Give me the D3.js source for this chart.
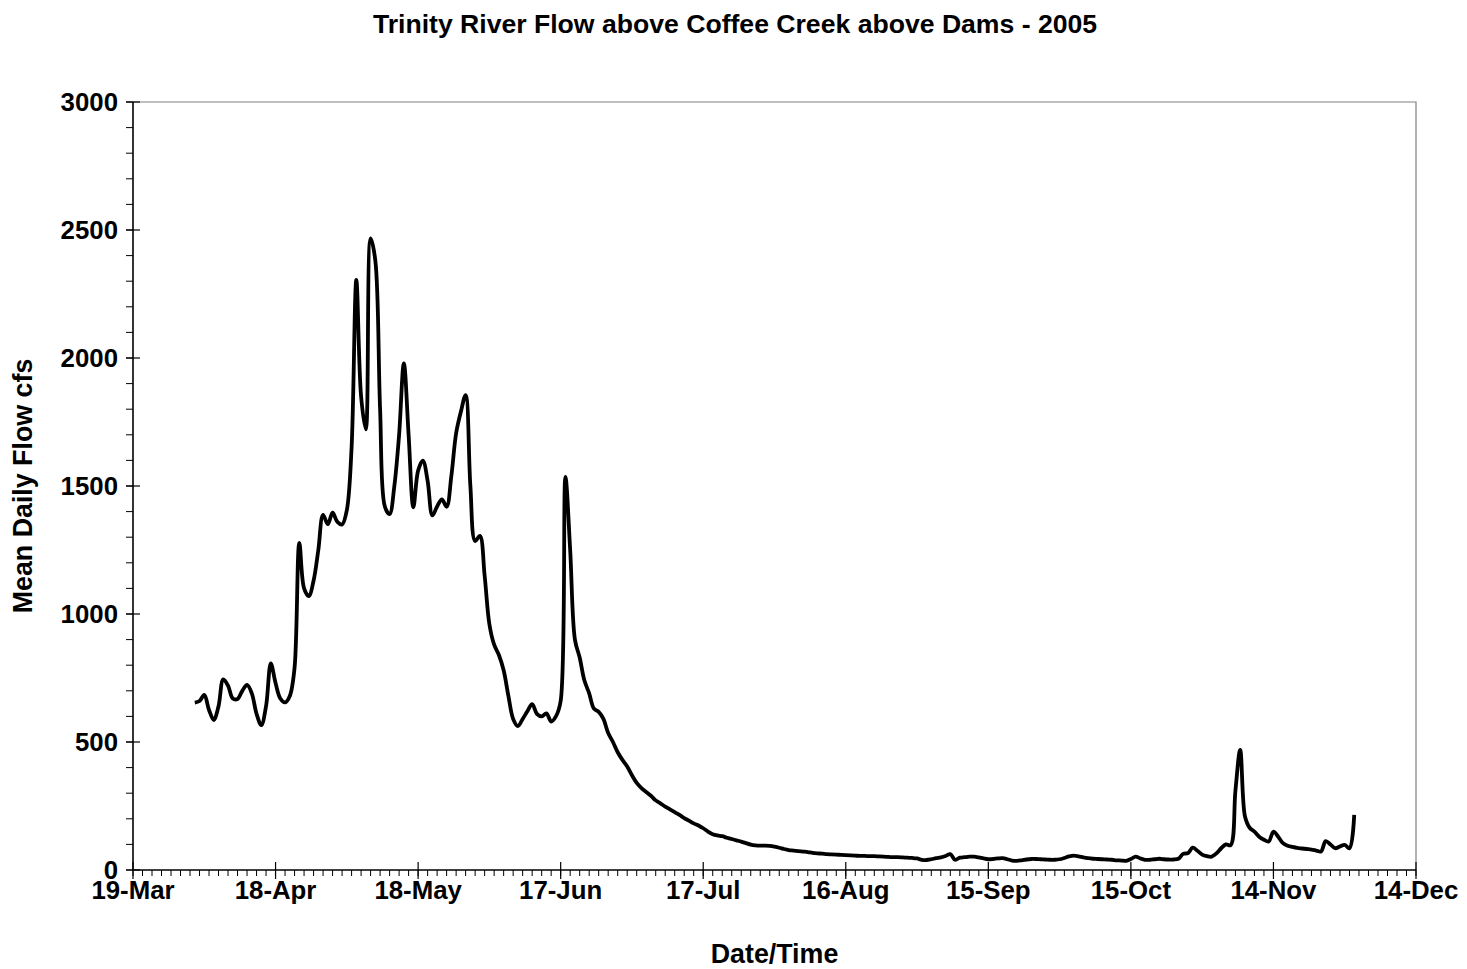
<!DOCTYPE html>
<html>
<head>
<meta charset="utf-8">
<script src="https://cdn.jsdelivr.net/npm/d3@7"></script>
<style>
  html, body { margin: 0; padding: 0; background: #fff; }
  svg { display: block; }
  text { font-family: "Liberation Sans", Arial, Helvetica, sans-serif; font-weight: bold; fill: #000; }
</style>
</head>
<body>
<svg id="chart" width="1467" height="969"></svg>
<script>
// Trinity River above Coffee Creek, mean daily flow (cfs), 1 Apr – 1 Dec 2005
const seriesStart = "2005-04-01";
const aprilFlow = [654, 660, 684, 625, 586, 640, 745, 720, 670, 668, 700, 723, 690, 610, 566, 640, 807, 730, 670, 655, 680, 790, 1278, 1100, 1070, 1130, 1250, 1387, 1351, 1396];
const mayFlow = [1360, 1350, 1406, 1650, 2305, 1850, 1721, 2467, 2380, 1800, 1420, 1390, 1500, 1700, 1979, 1700, 1417, 1560, 1599, 1520, 1385, 1420, 1448, 1419, 1540, 1706, 1790, 1855, 1500, 1285, 1305];
const juneFlow = [1150, 960, 880, 840, 780, 680, 590, 562, 590, 620, 648, 610, 600, 612, 580, 600, 660, 1536, 1250, 900, 830, 740, 690, 630, 618, 590, 535, 500, 460, 430];
const julyFlow = [404, 370, 340, 320, 305, 290, 272, 260, 248, 237, 226, 215, 203, 193, 182, 174, 163, 150, 140, 135, 132, 126, 121, 116, 111, 105, 99, 96, 95, 95, 94];
const augustFlow = [91, 87, 82, 78, 76, 74, 72, 70, 67, 65, 64, 62, 61, 60, 59, 58, 57, 56, 55, 55, 54, 54, 53, 52, 51, 50, 50, 49, 48, 47, 45];
const septemberFlow = [40, 39, 42, 46, 49, 55, 62, 40, 48, 50, 52, 52, 49, 45, 42, 43, 45, 46, 42, 37, 36, 38, 41, 43, 43, 42, 41, 40, 40, 42];
const octoberFlow = [47, 53, 56, 53, 49, 46, 44, 43, 42, 41, 40, 38, 37, 36, 43, 52, 45, 40, 40, 42, 44, 42, 41, 41, 44, 63, 66, 87, 75, 60, 54];
const novemberFlow = [52, 65, 85, 100, 97, 310, 469, 210, 165, 150, 130, 118, 111, 150, 130, 105, 95, 90, 86, 84, 82, 80, 76, 72, 113, 100, 85, 92, 98, 85];
const decemberFlow = [215];

const xTickLabels = ["19-Mar", "18-Apr", "18-May", "17-Jun", "17-Jul", "16-Aug", "15-Sep", "15-Oct", "14-Nov", "14-Dec"];
const yTickValues = [0, 500, 1000, 1500, 2000, 2500, 3000];

const titleText = "Trinity River Flow above Coffee Creek above Dams - 2005";
const xTitle = "Date/Time";
const yTitle = "Mean Daily Flow cfs";

// ---- assemble daily records ----
const flows = [].concat(aprilFlow, mayFlow, juneFlow, julyFlow, augustFlow, septemberFlow, octoberFlow, novemberFlow, decemberFlow);
const parseDay = d3.utcParse("%Y-%m-%d");
const day0 = parseDay(seriesStart);
const records = flows.map((v, i) => ({ date: d3.utcDay.offset(day0, i), flow: v }));

// ---- layout ----
const svg = d3.select("#chart");
const plot = { left: 133, right: 1416, top: 102, bottom: 870 };

const axisStart = parseDay("2005-03-19");
const axisEnd = parseDay("2005-12-14");

const x = d3.scaleUtc().domain([axisStart, axisEnd]).range([plot.left, plot.right]);
const y = d3.scaleLinear().domain([0, 3000]).range([plot.bottom, plot.top]);

const allDays = d3.utcDay.range(axisStart, d3.utcDay.offset(axisEnd, 1));
const majorDates = allDays.filter((d, i) => i % 30 === 0);
const minorDates = allDays.filter((d, i) => i % 2 === 0);
const minorY = d3.range(0, 3001, 100);

// plot frame: grey on top and right
svg.append("path")
  .attr("d", `M${plot.left},${plot.top}H${plot.right}V${plot.bottom}`)
  .attr("fill", "none").attr("stroke", "#808080").attr("stroke-width", 1.2);

// ---- x axis ----
const gx = svg.append("g");
gx.selectAll("line.minor").data(minorDates).join("line")
  .attr("x1", d => x(d)).attr("x2", d => x(d))
  .attr("y1", plot.bottom).attr("y2", plot.bottom + 6)
  .attr("stroke", "#000").attr("stroke-width", 1);
gx.selectAll("line.major").data(majorDates).join("line")
  .attr("x1", d => x(d)).attr("x2", d => x(d))
  .attr("y1", plot.bottom - 8).attr("y2", plot.bottom + 9)
  .attr("stroke", "#000").attr("stroke-width", 1.2);
gx.selectAll("text").data(majorDates).join("text")
  .attr("x", d => x(d)).attr("y", plot.bottom + 29)
  .attr("text-anchor", "middle").attr("font-size", 25.8)
  .text((d, i) => xTickLabels[i]);
gx.append("line")
  .attr("x1", plot.left).attr("x2", plot.right)
  .attr("y1", plot.bottom).attr("y2", plot.bottom)
  .attr("stroke", "#000").attr("stroke-width", 1.6);

// ---- y axis ----
const gy = svg.append("g");
gy.selectAll("line.minor").data(minorY).join("line")
  .attr("x1", plot.left - 7).attr("x2", plot.left)
  .attr("y1", d => y(d)).attr("y2", d => y(d))
  .attr("stroke", "#000").attr("stroke-width", 1);
gy.selectAll("line.major").data(yTickValues).join("line")
  .attr("x1", plot.left - 7).attr("x2", plot.left + 7)
  .attr("y1", d => y(d)).attr("y2", d => y(d))
  .attr("stroke", "#000").attr("stroke-width", 1.2);
gy.selectAll("text").data(yTickValues).join("text")
  .attr("x", plot.left - 15).attr("y", d => y(d))
  .attr("dy", "0.35em")
  .attr("text-anchor", "end").attr("font-size", 25.8)
  .text(d => d);
gy.append("line")
  .attr("x1", plot.left).attr("x2", plot.left)
  .attr("y1", plot.top).attr("y2", plot.bottom)
  .attr("stroke", "#000").attr("stroke-width", 1.6);

// ---- flow line ----
const line = d3.line()
  .x(d => x(d.date))
  .y(d => y(d.flow))
  .curve(d3.curveCatmullRom.alpha(0.5));

svg.append("path")
  .datum(records)
  .attr("d", line)
  .attr("fill", "none")
  .attr("stroke", "#000")
  .attr("stroke-width", 3.8)
  .attr("stroke-linejoin", "round");

// ---- titles ----
svg.append("text")
  .attr("x", 735).attr("y", 33)
  .attr("text-anchor", "middle").attr("font-size", 26.6)
  .text(titleText);

svg.append("text")
  .attr("x", (plot.left + plot.right) / 2).attr("y", 963)
  .attr("text-anchor", "middle").attr("font-size", 26.8)
  .text(xTitle);

svg.append("text")
  .attr("transform", `translate(32,${(plot.top + plot.bottom) / 2}) rotate(-90)`)
  .attr("text-anchor", "middle").attr("font-size", 26.8)
  .text(yTitle);
</script>
</body>
</html>
